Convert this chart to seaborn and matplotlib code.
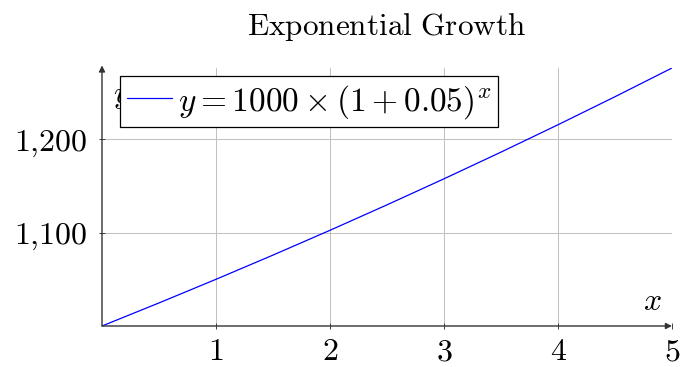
import matplotlib
matplotlib.use("Agg")
import matplotlib.pyplot as plt
import seaborn as sns
import pandas as pd

# Compound growth of 1000 at 5% per period
years = [0, 0.5, 1, 1.5, 2, 2.5, 3, 3.5, 4, 4.5, 5]
balance = [1000.00, 1024.70, 1050.00, 1075.93, 1102.50, 1129.73,
           1157.63, 1186.21, 1215.51, 1245.52, 1276.28]
x_ticks = [1, 2, 3, 4, 5]
y_ticks = [1100, 1200]
x_tick_labels = ["$1$", "$2$", "$3$", "$4$", "$5$"]
y_tick_labels = ["$1{,}100$", "$1{,}200$"]
title = r"$\mathrm{Exponential\ Growth}$"
series_label = r"$y = 1000 \times (1 + 0.05)^x$"

sns.set_theme(style="white")
plt.rcParams["mathtext.fontset"] = "cm"
plt.rcParams["font.family"] = ["DejaVu Serif"]
plt.rcParams["text.color"] = "black"

df = pd.DataFrame({"x": years, "y": balance})

fig = plt.figure(figsize=(6.81, 3.67), dpi=100)
ax = fig.add_axes([102 / 681, 1 - 326 / 367, 570 / 681, 258 / 367])

sns.lineplot(data=df, x="x", y="y", ax=ax, color="blue", linewidth=0.9,
             label=series_label)

ax.set_xlim(0, 5)
ax.set_ylim(1000, 1276.28)
ax.set_xticks(x_ticks)
ax.set_xticklabels(x_tick_labels, fontsize=23)
ax.set_yticks(y_ticks)
ax.set_yticklabels(y_tick_labels, fontsize=23)
ax.set_xlabel("")
ax.set_ylabel("")
ax.grid(True, color="#bfbfbf", linewidth=0.7)
ax.tick_params(axis="both", direction="inout", length=5, width=0.7,
               colors="#404040", labelcolor="black")
ax.tick_params(axis="x", bottom=True, pad=5)
ax.tick_params(axis="y", left=True, pad=8)

for side in ["top", "right", "bottom", "left"]:
    ax.spines[side].set_visible(False)

# axis lines with arrow heads
arrow_kw = dict(arrowstyle="-|>", color="#333333", lw=1.0,
                mutation_scale=9, shrinkA=0, shrinkB=0)
ax.annotate("", xy=(1.0, 0), xytext=(0, 0), xycoords="axes fraction",
            textcoords="axes fraction", arrowprops=arrow_kw, zorder=5)
ax.annotate("", xy=(0, 1.01), xytext=(0, 0), xycoords="axes fraction",
            textcoords="axes fraction", arrowprops=arrow_kw, zorder=5)

ax.text(0.965, 0.035, "$x$", transform=ax.transAxes, fontsize=23,
        ha="center", va="bottom")
ax.text(0.035, 0.955, "$y$", transform=ax.transAxes, fontsize=23,
        ha="center", va="top", zorder=2)

ax.set_title(title, fontsize=22.5, pad=24, color="black")

leg = ax.legend(loc="upper left", bbox_to_anchor=(0.0316, 0.969), fontsize=24,
                frameon=True, fancybox=False, edgecolor="black",
                framealpha=1.0, handlelength=1.35, handletextpad=0.2,
                borderpad=0.2, borderaxespad=0)
leg.get_frame().set_linewidth(0.9)
leg.set_zorder(10)

fig.savefig("out.png", dpi=100)
